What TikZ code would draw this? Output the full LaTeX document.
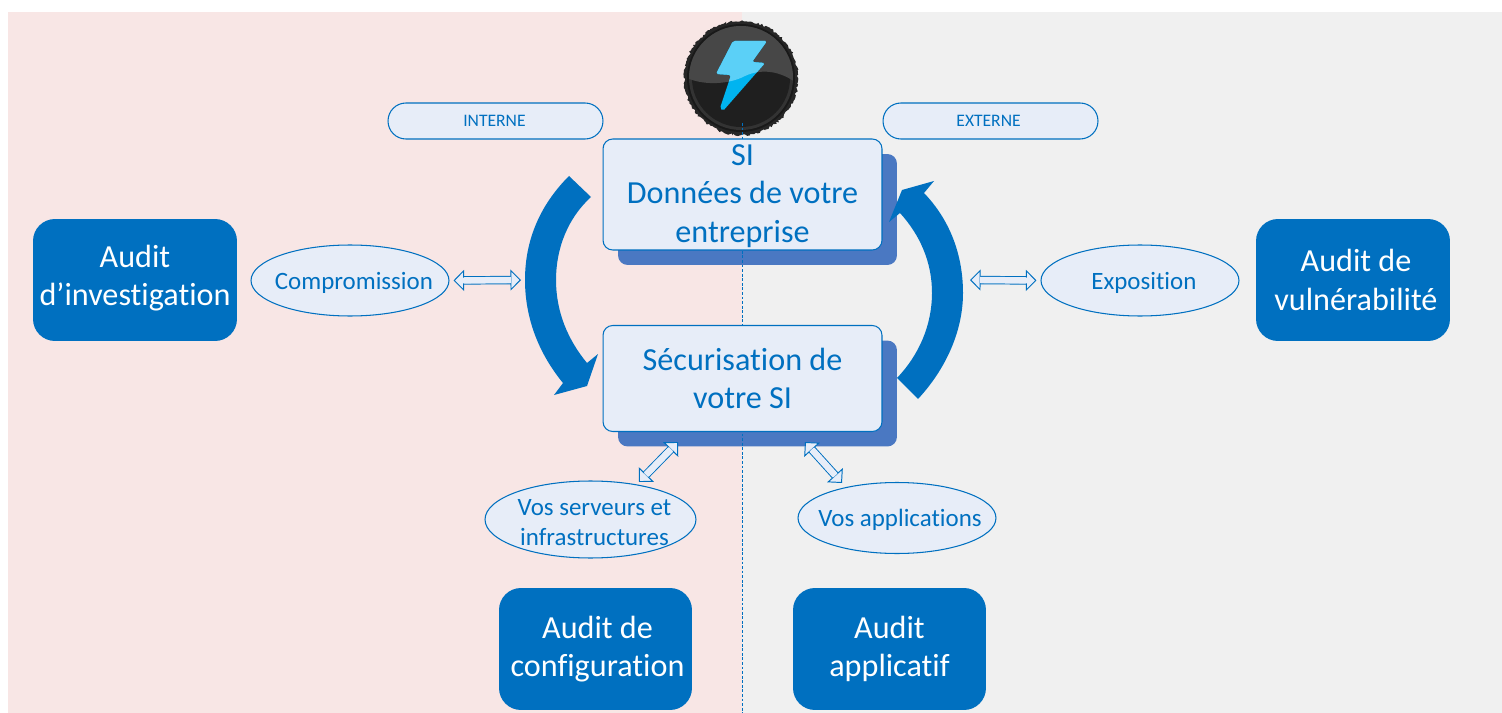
\documentclass[tikz,border=0pt]{standalone}
\usepackage{fontspec}
\setmainfont{Carlito}[Ligatures=CommonOff]
\usetikzlibrary{arrows.meta,decorations.pathmorphing,shapes.geometric}

\definecolor{bluesi}{HTML}{0070C0}
\definecolor{palesi}{HTML}{E7EDF8}
\definecolor{shadowsi}{HTML}{4A78C2}
\definecolor{pinkbg}{HTML}{F8E6E5}
\definecolor{graybg}{HTML}{F0F0F0}
\definecolor{boltlow}{HTML}{00B4F0}
\definecolor{bolthigh}{HTML}{5BD0F7}

\newcommand{\pousse}[1]{\hspace*{#1}}

\tikzset{
    mainbox/.style={draw=bluesi,line width=0.6pt,fill=palesi,text=bluesi,rounded corners=5.5pt,inner sep=0pt,align=center,
        font=\fontsize{18.3}{21.9}\selectfont,minimum width=5.58cm},
    shadowbox/.style={fill=shadowsi,rounded corners=5.5pt,inner sep=0pt,minimum width=5.58cm},
    auditbox/.style={fill=bluesi,text=white,rounded corners=12.5pt,inner sep=0pt,align=center,
        font=\fontsize{18.3}{21.9}\selectfont,minimum height=2.44cm},
    pillbox/.style={draw=bluesi,line width=0.6pt,fill=palesi,text=bluesi,rounded corners=10.2pt,inner sep=0pt,
        font=\fontsize{10}{11}\selectfont,minimum width=4.3cm,minimum height=0.72cm},
    oval/.style={ellipse,draw=bluesi,line width=0.6pt,fill=palesi,text=bluesi,inner xsep=-16pt,inner ysep=-8pt,align=center,
        font=\fontsize{14.2}{17}\selectfont,text depth=2.8pt},
    twoway/.style={draw=bluesi,line width=0.55pt,double=palesi,double distance=3.7pt,
        {Triangle[length=6pt,width=12pt,fill=palesi]}-{Triangle[length=6pt,width=12pt,fill=palesi]},
        postaction={draw=palesi,arrows=-,line width=3.3pt,shorten <=5.7pt,shorten >=5.7pt}},
    turn/.style={fill=bluesi},
}

\begin{document}
\begin{tikzpicture}[x=0.02cm,y=-0.02cm]
    \useasboundingbox (0,0) rectangle (1502,713);
    \fill[pinkbg] (8,12) rectangle (742,713); % Fond interne
    \fill[graybg] (742,12) rectangle (1502,713); % Fond externe
    %%%%%%%%%%%%%%%%%%%%%%%%%%%%%%%%%%
    \fill[black!85,decorate,decoration={random steps,segment length=1pt,amplitude=0.7pt}] (741,78) circle (57); % Icone
    \fill[black!90] (741,78) circle (54);
    \fill[black!80] (741,78) circle (52);
    \fill[black!88] (741,78) circle (49);
    \begin{scope}
        \clip (741,78) circle (52);
        \fill[black!72] (687,78) .. controls (705,86) and (730,84) .. (745,76) .. controls (760,69) and (778,70) .. (795,82) -- (795,20) -- (687,20) -- cycle;
    \end{scope}
    \fill[boltlow,rounded corners=1pt] (733,41) -- (767,41) -- (752,62) -- (765,63) -- (723,111) -- (720,108) -- (731,75) -- (716,74) -- cycle;
    \begin{scope}
        \clip (687,78) .. controls (705,86) and (730,84) .. (745,76) .. controls (760,69) and (778,70) .. (795,82) -- (795,20) -- (687,20) -- cycle;
        \fill[bolthigh,rounded corners=1pt] (733,41) -- (767,41) -- (752,62) -- (765,63) -- (723,111) -- (720,108) -- (731,75) -- (716,74) -- cycle;
    \end{scope}
    %%%%%%%%%%%%%%%%%%%%%%%%%%%%%%%%%%
    \path(757.5,209.5) node[shadowbox,minimum height=2.22cm] (donneesShadow) {};
    \path(757.5,393.5) node[shadowbox,minimum height=2.12cm] (securShadow) {};
    \coordinate (axeHaut) at (742,123);
    \coordinate (axeBas) at (742,713);
    \draw[bluesi,dash pattern=on 1.6pt off 1pt,line width=0.55pt] (axeHaut) -- (axeBas); % Axe interne externe
    \path(742.5,194.5) node[mainbox,minimum height=2.22cm,text height=58pt,text depth=3.7pt] (donnees) {SI\\Données de votre\\entreprise};
    \path(742.5,378.5) node[mainbox,minimum height=2.12cm] (secur) {Sécurisation de\\votre SI};
    %%%%%%%%%%%%%%%%%%%%%%%%%%%%%%%%%%
    \fill[turn] (569,176) .. controls (540,205) and (525,240) .. (525,280) .. controls (525,320) and (540,355) .. (563,383)
        -- (554,395) -- (587,386) -- (598,354) -- (587,363)
        .. controls (568,340) and (556,312) .. (556,280) .. controls (556,248) and (568,218) .. (591,197) -- cycle; % Fleche gauche
    \fill[turn] (918,399) .. controls (945,370) and (963,332) .. (963,293) .. controls (963,255) and (950,220) .. (924,193)
        -- (934,181) -- (902,190) -- (889,222) -- (900,213)
        .. controls (920,235) and (932,262) .. (932,293) .. controls (932,325) and (919,355) .. (897,378) -- cycle; % Fleche droite
    %%%%%%%%%%%%%%%%%%%%%%%%%%%%%%%%%%
    \path(495.5,121) node[pillbox] (interne) {INTERNE\pousse{1.2pt}};
    \path(990.5,121) node[pillbox] (externe) {EXTERNE\pousse{2.2pt}};
    \path(135,280) node[auditbox,minimum width=4.08cm,text depth=5.2pt] (investigation) {Audit\\d’investigation};
    \path(1353,280) node[auditbox,minimum width=3.88cm] (vulnerabilite) {\pousse{3.4pt}Audit de\\\pousse{3.4pt}vulnérabilité};
    \path(595.5,649) node[auditbox,minimum width=3.86cm] (configuration) {\pousse{2.3pt}Audit de\\\pousse{2.3pt}configuration};
    \path(889.5,649) node[auditbox,minimum width=3.86cm,text height=35pt,text depth=3.7pt] (applicatif) {Audit\\applicatif};
    %%%%%%%%%%%%%%%%%%%%%%%%%%%%%%%%%%
    \path(350,280.5) node[oval,minimum width=3.96cm,minimum height=1.42cm,text height=12.7pt] (compromission) {\pousse{4.5pt}Compromission};
    \path(1140,280.5) node[oval,minimum width=3.96cm,minimum height=1.42cm,text height=12.7pt] (exposition) {\pousse{4.5pt}Exposition};
    \path(590.5,519.5) node[oval,minimum width=4.22cm,minimum height=1.54cm,text height=32pt] (serveurs) {\pousse{4.5pt}Vos serveurs et\\\pousse{4.5pt}infrastructures};
    \path(897,518) node[oval,minimum width=3.96cm,minimum height=1.42cm,text height=12.7pt] (applications) {\pousse{3.4pt}Vos applications};
    %%%%%%%%%%%%%%%%%%%%%%%%%%%%%%%%%%
    \coordinate (versGauche) at (521,280);
    \coordinate (versDroite) at (970,280);
    \coordinate (versServeurs) at (678,442);
    \coordinate (versApplis) at (805,442);
    \coordinate (basServeurs) at (639,482);
    \coordinate (basApplis) at (842,483);
    \draw[twoway,shorten <=2.3pt] (compromission.east) -- (versGauche);
    \draw[twoway,shorten <=2.3pt] (exposition.west) -- (versDroite);
    \draw[twoway] (basServeurs) -- (versServeurs);
    \draw[twoway] (versApplis) -- (basApplis);
\end{tikzpicture}
\end{document}
